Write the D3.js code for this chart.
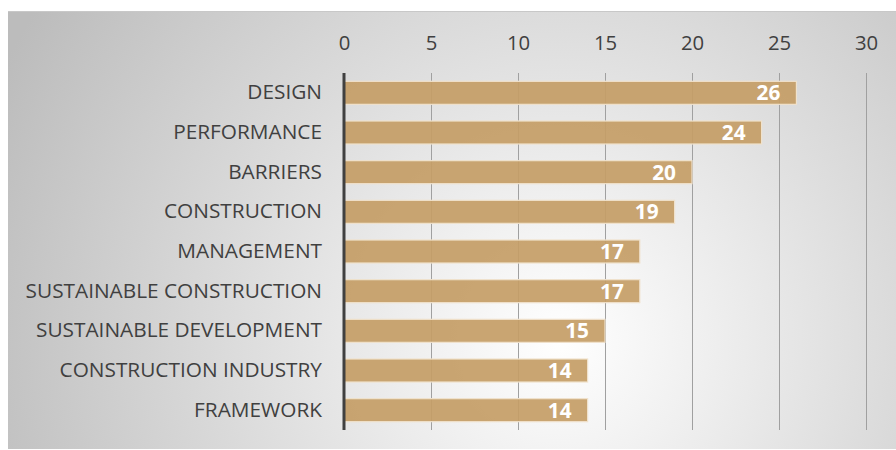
<!DOCTYPE html>
<html>
<head>
<meta charset="utf-8">
<script src="https://cdn.jsdelivr.net/npm/d3@7"></script>
<style>
  html, body { margin: 0; padding: 0; background: #ffffff; }
  svg { display: block; }
  text { font-family: "Open Sans", "Noto Sans", sans-serif; }
</style>
</head>
<body>
<svg id="chart" width="896" height="450"></svg>
<script>
const categories = ["DESIGN", "PERFORMANCE", "BARRIERS", "CONSTRUCTION", "MANAGEMENT",
  "SUSTAINABLE CONSTRUCTION", "SUSTAINABLE DEVELOPMENT", "CONSTRUCTION INDUSTRY", "FRAMEWORK"];
const counts = [26, 24, 20, 19, 17, 17, 15, 14, 14];
const tickValues = [0, 5, 10, 15, 20, 25, 30];

const svg = d3.select("#chart");
const W = 896, H = 450;
const FS = 20.3;

// radial background panel
const defs = svg.append("defs");
const grad = defs.append("radialGradient")
  .attr("id", "bg").attr("gradientUnits", "userSpaceOnUse")
  .attr("cx", 560).attr("cy", 340).attr("r", 620);
grad.append("stop").attr("offset", "0%").attr("stop-color", "#ffffff");
grad.append("stop").attr("offset", "100%").attr("stop-color", "#bcbcbc");

svg.append("rect").attr("x", 8).attr("y", 11).attr("width", W - 8).attr("height", H - 12)
  .attr("fill", "url(#bg)");
svg.append("line").attr("x1", 8).attr("x2", W).attr("y1", 11.5).attr("y2", 11.5)
  .attr("stroke", "#c8c8c8").attr("stroke-width", 1);

const x = d3.scaleLinear().domain([0, 30]).range([344, 866]);
const y = d3.scaleBand().domain(categories).range([73, 430]).paddingInner(0.42).paddingOuter(0.21);

// gridlines
svg.append("g").selectAll("line").data(tickValues.slice(1)).join("line")
  .attr("x1", d => Math.round(x(d)) + 0.5).attr("x2", d => Math.round(x(d)) + 0.5)
  .attr("y1", 73).attr("y2", 430)
  .attr("stroke", "#a0a0a0").attr("stroke-width", 1);

// top axis tick labels
const axis = d3.axisTop(x).tickValues(tickValues).tickSize(0).tickPadding(0);
const gAxis = svg.append("g").attr("transform", "translate(0,50)").call(axis);
gAxis.select(".domain").remove();
gAxis.selectAll("text").attr("font-size", FS).attr("fill", "#404040").attr("dy", 0)
  .attr("font-family", "\"Open Sans\", sans-serif");

// bars
svg.append("g").selectAll("rect").data(categories).join("rect")
  .attr("x", x(0)).attr("y", d => y(d))
  .attr("width", (d, i) => x(counts[i]) - x(0)).attr("height", y.bandwidth())
  .attr("fill", "#c49d66").attr("fill-opacity", 0.92)
  .attr("stroke", "#f0e2cc").attr("stroke-width", 1.2);

// value labels
svg.append("g").selectAll("text").data(categories).join("text")
  .attr("x", (d, i) => x(counts[i]) - 16).attr("y", d => y(d) + y.bandwidth() / 2)
  .attr("dy", "0.36em").attr("text-anchor", "end")
  .attr("font-size", FS + 0.5).attr("font-weight", "bold").attr("fill", "#ffffff")
  .text((d, i) => counts[i]);

// category axis
const yAxis = d3.axisLeft(y).tickSize(0).tickPadding(22);
const gY = svg.append("g").attr("transform", `translate(${x(0)},0)`).call(yAxis);
gY.select(".domain").remove();
gY.selectAll("text").attr("font-size", FS + 0.5).attr("fill", "#404040")
  .attr("font-family", "\"Open Sans\", sans-serif");
svg.append("line").attr("x1", x(0)).attr("x2", x(0)).attr("y1", 73).attr("y2", 430)
  .attr("stroke", "#404040").attr("stroke-width", 3);
</script>
</body>
</html>
